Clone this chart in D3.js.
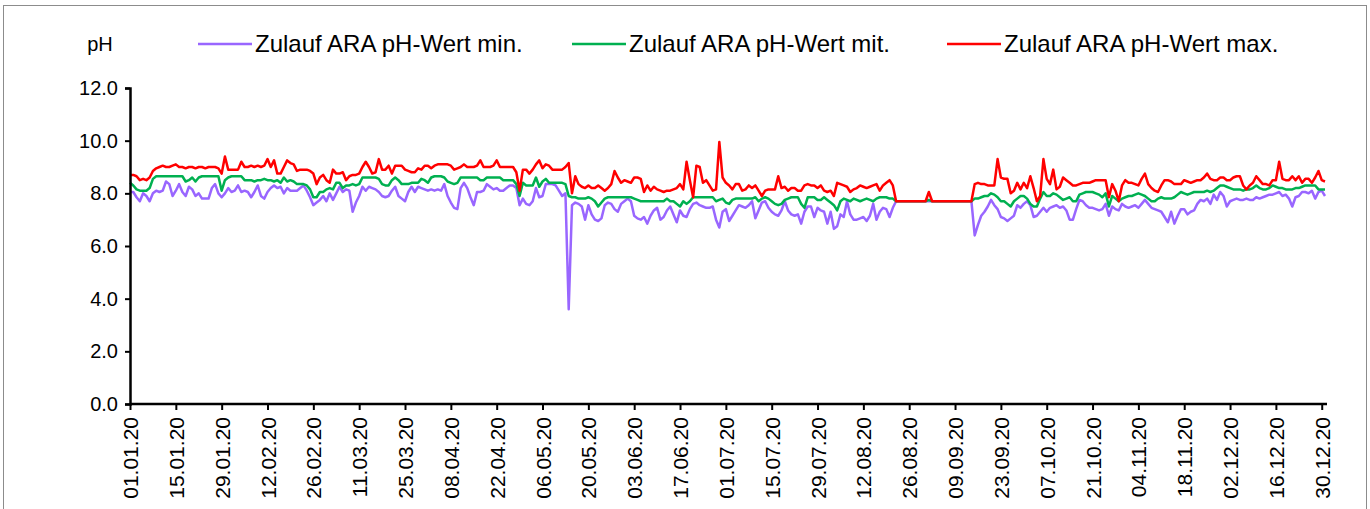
<!DOCTYPE html>
<html>
<head>
<meta charset="utf-8">
<script src="https://cdn.jsdelivr.net/npm/d3@7"></script>
<style>
  body { margin: 0; background: #fff; }
  svg { display: block; font-family: "Liberation Sans", Arial, sans-serif; }
</style>
</head>
<body>
<svg id="chart" width="1370" height="509"></svg>
<script>
// daily values 2020, one row per month
const phMin = [
  8.05,8.05,7.85,7.7,8.0,7.9,7.7,8.0,8.1,8.05,8.1,8.45,8.35,7.9,8.1,8.35,8.05,7.9,8.25,8.15,7.9,8.0,7.8,7.8,7.8,8.2,8.35,8.0,7.85,8.0,8.2,
  8.05,8.1,8.3,8.05,8.1,8.05,7.85,8.05,8.3,7.9,7.8,8.05,8.2,8.3,8.2,8.25,8.0,8.2,8.1,8.1,8.1,8.2,8.3,8.1,7.85,7.55,7.65,7.75,7.9,
  7.7,8.0,7.75,8.0,8.25,8.05,8.15,8.1,7.3,7.65,7.9,8.25,8.1,8.25,8.2,8.15,8.05,7.9,7.85,7.9,8.1,8.25,7.9,7.8,7.7,8.05,8.25,8.05,8.25,8.2,8.15,
  8.1,8.15,8.1,8.15,8.1,8.35,7.9,7.65,7.45,7.4,8.2,8.4,8.2,7.85,7.55,8.05,8.05,8.1,8.35,8.25,8.15,8.2,8.1,8.1,8.2,8.3,8.3,8.2,7.55,7.8,
  7.6,7.55,7.7,8.2,7.85,7.9,8.35,8.35,8.35,8.3,8.1,7.9,8.0,3.6,7.55,7.65,7.6,7.5,7.0,7.55,7.2,7.0,6.95,7.05,7.55,7.65,7.6,7.4,7.3,7.6,7.7,
  7.8,7.7,7.15,7.05,7.0,7.1,6.85,7.15,7.35,7.45,7.0,7.1,7.35,7.5,7.2,6.9,7.35,7.15,7.1,7.4,7.6,7.65,7.55,7.5,7.45,7.45,7.5,7.0,6.7,7.3,
  7.4,6.95,7.15,7.35,7.55,7.5,7.45,7.55,7.7,7.05,7.35,7.65,7.7,7.45,7.3,7.2,7.15,7.35,7.7,7.35,7.2,7.15,7.2,6.85,7.3,7.5,7.5,7.1,7.45,7.35,7.3,
  6.85,7.3,6.65,6.75,7.2,7.1,7.7,7.2,7.0,7.0,7.05,7.1,6.95,7.15,7.6,7.0,7.3,7.45,7.4,7.1,7.45,7.7,7.7,7.7,7.7,7.7,7.7,7.7,7.7,7.7,7.7,
  7.7,7.7,7.7,7.7,7.7,7.7,7.7,7.7,7.7,7.7,7.7,7.7,7.7,7.7,6.4,6.8,7.15,7.3,7.5,7.75,7.55,7.4,7.1,7.05,6.95,7.05,7.15,7.55,7.45,7.6,
  7.7,7.55,7.1,7.15,7.3,7.45,7.3,7.45,7.5,7.55,7.45,7.5,7.35,7.0,7.0,7.4,7.75,7.7,7.55,7.45,7.45,7.4,7.35,7.4,7.6,7.15,7.5,7.4,7.35,7.6,7.5,
  7.45,7.5,7.55,7.45,7.6,7.75,7.6,7.45,7.4,7.35,7.3,7.1,6.9,7.3,6.85,7.15,7.4,7.4,7.2,7.3,7.35,7.6,7.75,7.7,7.8,7.6,7.95,7.75,8.05,7.9,
  7.5,7.7,7.75,7.8,7.75,7.75,7.8,7.75,7.75,7.85,7.8,7.85,7.9,7.95,7.95,8.0,8.05,7.9,7.95,7.8,7.5,7.85,7.9,8.05,8.05,8.0,8.1,7.8,8.05,8.1,7.9
];

const phMit = [
  8.4,8.3,8.15,8.1,8.1,8.1,8.2,8.55,8.65,8.65,8.65,8.65,8.65,8.65,8.65,8.65,8.65,8.45,8.5,8.6,8.45,8.6,8.65,8.65,8.65,8.65,8.65,8.65,8.1,8.5,8.6,
  8.65,8.65,8.65,8.65,8.5,8.5,8.5,8.45,8.5,8.5,8.55,8.5,8.5,8.45,8.5,8.4,8.6,8.45,8.5,8.45,8.35,8.35,8.35,8.3,8.15,7.85,7.85,8.05,8.05,
  8.15,8.2,8.15,8.4,8.4,8.2,8.3,8.3,8.35,8.3,8.35,8.6,8.6,8.6,8.6,8.6,8.55,8.35,8.3,8.3,8.5,8.6,8.5,8.35,8.35,8.35,8.4,8.4,8.4,8.55,8.5,
  8.4,8.6,8.65,8.65,8.65,8.6,8.45,8.4,8.35,8.4,8.6,8.6,8.6,8.6,8.6,8.6,8.5,8.5,8.6,8.6,8.6,8.6,8.6,8.5,8.5,8.5,8.5,8.35,7.9,8.4,
  8.3,8.3,8.3,8.6,8.25,8.45,8.55,8.4,8.4,8.4,8.4,8.4,8.35,7.9,7.85,7.85,7.8,7.8,7.8,7.85,7.8,7.7,7.5,7.65,7.8,7.85,7.85,7.85,7.85,7.85,7.85,
  7.85,7.85,7.8,7.75,7.7,7.7,7.7,7.7,7.7,7.7,7.7,7.7,7.8,7.7,7.7,7.6,7.5,7.7,7.6,7.7,7.85,7.85,7.85,7.85,7.85,7.85,7.85,7.7,7.75,7.8,
  7.65,7.6,7.75,7.8,7.8,7.8,7.8,7.8,7.8,7.85,7.7,7.8,7.85,7.8,7.7,7.6,7.55,7.6,7.75,7.8,7.85,7.85,7.85,7.6,7.45,7.85,7.85,7.85,7.75,7.75,7.85,
  7.75,7.65,7.55,7.35,7.7,7.8,7.75,7.7,7.8,7.75,7.7,7.75,7.8,7.75,7.7,7.8,7.85,7.85,7.85,7.8,7.8,7.7,7.7,7.7,7.7,7.7,7.7,7.7,7.7,7.7,7.7,
  7.75,7.7,7.7,7.7,7.7,7.7,7.7,7.7,7.7,7.7,7.7,7.7,7.7,7.7,7.8,7.8,7.85,7.9,7.9,8.0,7.95,7.85,7.7,7.7,7.6,7.5,7.7,7.8,7.9,7.9,
  7.8,7.6,7.5,7.5,7.8,8.05,7.9,7.9,8.0,7.95,7.85,7.75,7.8,7.85,7.7,7.7,7.95,8.0,8.05,8.05,8.05,8.0,7.95,7.85,8.0,7.5,7.9,7.8,7.7,7.8,7.85,
  7.9,7.9,7.95,8.0,7.95,7.9,7.8,7.7,7.7,7.8,7.85,7.8,7.8,7.8,7.85,7.95,8.05,8.0,7.95,8.0,8.05,8.05,8.05,8.05,8.1,8.05,8.1,8.2,8.3,8.3,
  8.25,8.2,8.15,8.15,8.15,8.1,8.15,8.15,8.2,8.3,8.2,8.15,8.15,8.2,8.3,8.25,8.2,8.2,8.15,8.15,8.15,8.2,8.2,8.25,8.3,8.3,8.3,8.3,8.15,8.15,8.15
];

const phMax = [
  8.7,8.7,8.65,8.5,8.55,8.5,8.6,8.85,8.95,9.0,9.05,9.0,9.0,9.05,9.1,9.0,9.0,8.95,9.0,9.0,8.95,9.0,9.0,8.95,9.0,9.0,9.0,8.95,8.75,9.4,8.9,
  8.9,8.9,8.9,9.2,9.0,9.0,9.05,9.0,9.05,9.0,9.05,9.3,9.0,9.25,8.75,8.75,9.0,9.25,9.15,9.1,8.85,8.9,8.9,8.9,8.85,8.75,8.35,8.6,8.7,
  8.5,8.4,8.9,8.75,8.75,8.8,8.5,8.65,8.7,8.7,8.75,9.0,9.2,9.0,8.75,8.8,9.3,8.9,8.9,9.05,8.75,9.05,9.05,9.05,8.9,8.85,8.8,8.8,8.95,8.9,9.05,
  9.05,8.95,9.05,9.1,9.1,9.1,9.1,9.05,8.9,8.95,9.0,9.1,9.0,9.0,9.0,9.05,9.25,9.0,9.0,9.0,9.05,9.25,9.0,9.0,9.0,9.0,9.0,8.8,8.1,8.9,
  8.9,8.75,8.9,9.1,9.25,8.95,9.1,9.05,8.9,8.9,8.9,8.9,9.0,9.15,8.0,8.65,8.35,8.25,8.2,8.3,8.2,8.2,8.3,8.2,8.1,8.2,8.35,8.85,8.6,8.4,8.5,
  8.45,8.4,8.6,8.6,8.55,8.05,8.3,8.1,8.25,8.15,8.1,8.05,8.1,8.1,8.15,8.2,8.35,8.15,9.2,8.5,7.85,9.05,9.0,8.4,8.5,8.3,8.1,8.15,9.95,8.6,
  8.4,8.3,8.15,8.35,8.35,8.1,8.15,8.3,8.2,8.3,8.1,7.9,8.1,8.15,8.15,8.15,8.65,8.2,8.25,8.1,8.2,8.2,8.1,8.1,8.3,8.35,8.3,8.3,8.2,8.3,8.1,
  8.05,8.1,7.9,8.4,8.35,8.3,8.25,8.05,8.15,8.2,8.3,8.25,8.2,8.25,8.3,8.35,8.1,8.3,8.4,8.5,8.3,7.7,7.7,7.7,7.7,7.7,7.7,7.7,7.7,7.7,7.7,
  8.05,7.7,7.7,7.7,7.7,7.7,7.7,7.7,7.7,7.7,7.7,7.7,7.7,7.7,8.35,8.4,8.35,8.35,8.3,8.3,8.3,9.3,8.6,8.55,8.55,8.0,8.1,8.4,8.15,8.4,
  8.2,8.65,8.2,7.7,7.9,9.3,8.55,8.35,8.9,8.15,8.25,8.6,8.5,8.4,8.3,8.3,8.35,8.4,8.4,8.4,8.45,8.5,8.5,8.5,8.5,7.85,8.35,8.1,7.7,8.3,8.5,
  8.4,8.4,8.35,8.3,8.55,8.75,8.35,8.2,8.1,8.05,8.3,8.5,8.5,8.45,8.35,8.35,8.35,8.5,8.45,8.4,8.45,8.5,8.5,8.6,8.75,8.55,8.5,8.5,8.6,8.6,
  8.5,8.5,8.6,8.65,8.65,8.3,8.15,8.3,8.4,8.65,8.5,8.35,8.35,8.3,8.5,8.5,9.2,8.55,8.5,8.5,8.65,8.5,8.65,8.4,8.55,8.55,8.4,8.6,8.85,8.5,8.45
];

const tickLabels = ["01.01.20","15.01.20","29.01.20","12.02.20","26.02.20","11.03.20","25.03.20",
  "08.04.20","22.04.20","06.05.20","20.05.20","03.06.20","17.06.20","01.07.20","15.07.20","29.07.20",
  "12.08.20","26.08.20","09.09.20","23.09.20","07.10.20","21.10.20","04.11.20","18.11.20","02.12.20",
  "16.12.20","30.12.20"];
const yTicks = [0, 2, 4, 6, 8, 10, 12];

const series = [
  { name: "Zulauf ARA pH-Wert min.", values: phMin, color: "#9966FF", lx: 198 },
  { name: "Zulauf ARA pH-Wert mit.", values: phMit, color: "#00B050", lx: 572 },
  { name: "Zulauf ARA pH-Wert max.", values: phMax, color: "#FF0000", lx: 947 }
];

const parse = d3.timeParse("%d.%m.%y");
const fmt = d3.timeFormat("%d.%m.%y");
const start = new Date(2020, 0, 1);
const dates = phMin.map((v, i) => d3.timeDay.offset(start, i));

const svg = d3.select("#chart");

// outer frame
svg.append("rect")
  .attr("x", 3.5).attr("y", 5.5)
  .attr("width", 1363).attr("height", 520)
  .attr("fill", "none").attr("stroke", "#8c8c8c").attr("stroke-width", 1);

const x = d3.scaleTime()
  .domain([start, d3.timeDay.offset(start, phMin.length - 1)])
  .range([130, 1325]);
const y = d3.scaleLinear().domain([0, 12]).range([404, 88]);

// lines
const line = d3.line()
  .x((d, i) => x(dates[i]))
  .y(d => y(d));

series.forEach(s => {
  svg.append("path")
    .datum(s.values)
    .attr("fill", "none")
    .attr("stroke", s.color)
    .attr("stroke-width", 2.5)
    .attr("stroke-linejoin", "round")
    .attr("d", line);
});

// y axis
const yAxis = svg.append("g")
  .attr("transform", "translate(130,0)")
  .call(d3.axisLeft(y).tickValues(yTicks).tickFormat(d3.format(".1f")).tickSize(5).tickSizeOuter(5));
yAxis.select(".domain").attr("stroke", "#000").attr("stroke-width", 2.5);
yAxis.selectAll(".tick line").attr("stroke", "#000").attr("stroke-width", 2);
yAxis.selectAll(".tick text")
  .attr("x", -12)
  .style("font-size", "20px")
  .attr("fill", "#000");

// x axis
const xAxis = svg.append("g")
  .attr("transform", "translate(0,404)")
  .call(d3.axisBottom(x).tickValues(tickLabels.map(parse)).tickFormat(fmt).tickSize(6).tickSizeOuter(0));
xAxis.select(".domain").attr("stroke", "#000").attr("stroke-width", 2.5)
  .attr("d", "M130,0H1327");
xAxis.selectAll(".tick line").attr("stroke", "#000").attr("stroke-width", 2);
xAxis.selectAll(".tick text")
  .attr("transform", "rotate(-90)")
  .attr("x", -13)
  .attr("y", 0)
  .attr("dy", "0.36em")
  .style("text-anchor", "end")
  .style("font-size", "21px")
  .attr("fill", "#000");

// axis title
svg.append("text")
  .attr("x", 100).attr("y", 44)
  .attr("dy", "0.35em")
  .attr("text-anchor", "middle")
  .style("font-size", "20px")
  .text("pH");

// legend
const legend = svg.append("g");
series.forEach(s => {
  legend.append("line")
    .attr("x1", s.lx).attr("x2", s.lx + 54)
    .attr("y1", 44).attr("y2", 44)
    .attr("stroke", s.color).attr("stroke-width", 2.5);
  legend.append("text")
    .attr("x", s.lx + 57).attr("y", 44)
    .attr("dy", "0.35em")
    .style("font-size", "24px")
    .text(s.name);
});
</script>
</body>
</html>
